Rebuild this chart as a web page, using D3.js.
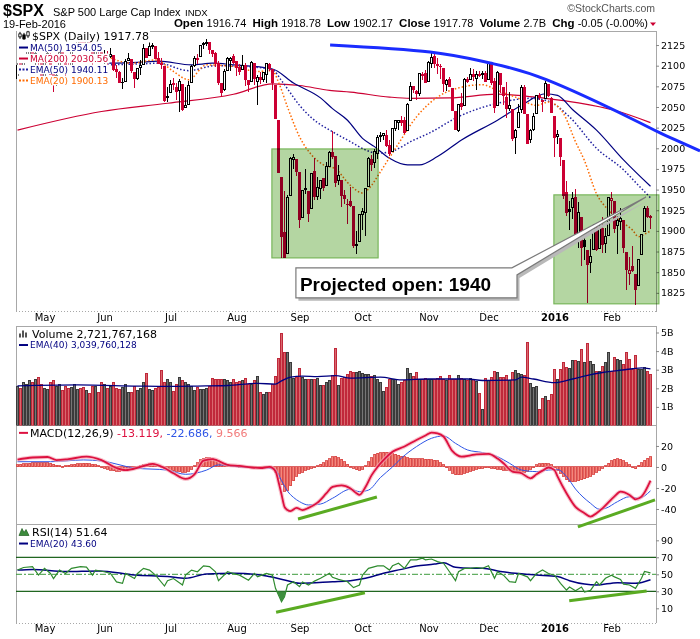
<!DOCTYPE html>
<html><head><meta charset="utf-8"><title>$SPX</title>
<script src="https://cdn.jsdelivr.net/npm/d3@7/dist/d3.min.js"></script>
<style>html,body{margin:0;padding:0;background:#fff}svg{display:block}</style>
</head><body>
<svg id="chart" width="700" height="639"></svg>
<script>
// ---------- DATA ----------
// date, open, high, low, close, volume (billions)
const ohlcv = [
["2015-04-20",2084.1,2103.9,2084.1,2100.4,2.1],["2015-04-21",2102.8,2109.6,2094.4,2097.3,2.0],["2015-04-22",2098.3,2108.9,2091.1,2108.0,2.3],["2015-04-23",2107.2,2120.5,2103.2,2112.9,2.2],["2015-04-24",2112.8,2120.9,2112.8,2117.7,2.4],["2015-04-27",2119.3,2125.9,2107.0,2108.9,2.3],["2015-04-28",2108.4,2116.0,2094.9,2114.8,2.45],["2015-04-29",2112.5,2113.7,2097.4,2106.9,2.6],["2015-04-30",2105.5,2105.5,2077.6,2085.5,2.2],
["2015-05-01",2087.4,2108.4,2087.4,2108.3,2.0],["2015-05-04",2108.6,2120.9,2108.6,2114.5,1.95],["2015-05-05",2112.6,2115.2,2088.5,2089.5,2.3],["2015-05-06",2091.3,2098.4,2067.9,2080.2,2.4],["2015-05-07",2080.0,2092.9,2075.0,2088.0,2.1],["2015-05-08",2092.1,2117.7,2092.1,2116.1,2.2],["2015-05-11",2115.6,2117.7,2104.6,2105.3,1.9],["2015-05-12",2102.9,2105.1,2085.6,2099.1,2.1],["2015-05-13",2099.6,2110.2,2096.0,2098.5,2.0],["2015-05-14",2100.4,2121.5,2100.4,2121.1,2.05],["2015-05-15",2122.1,2123.9,2116.8,2122.7,2.2],["2015-05-18",2121.3,2131.8,2120.0,2129.2,1.95],["2015-05-19",2129.5,2133.0,2124.5,2127.8,2.0],["2015-05-20",2127.8,2134.7,2122.6,2125.9,2.05],["2015-05-21",2125.6,2134.3,2122.6,2130.8,1.9],["2015-05-22",2130.4,2132.2,2126.1,2126.1,1.7],["2015-05-26",2125.3,2125.3,2099.2,2104.2,2.1],["2015-05-27",2105.1,2126.2,2105.1,2123.5,2.1],["2015-05-28",2122.3,2122.3,2112.8,2120.8,1.75],["2015-05-29",2120.7,2120.7,2104.9,2107.4,2.3],
["2015-06-01",2108.6,2119.2,2102.5,2111.7,2.2],["2015-06-02",2110.4,2117.6,2099.1,2109.6,2.0],["2015-06-03",2110.6,2121.9,2109.6,2114.1,2.1],["2015-06-04",2112.4,2112.9,2093.2,2095.8,2.3],["2015-06-05",2095.1,2101.0,2085.7,2092.8,2.0],["2015-06-08",2092.3,2093.0,2079.1,2079.3,1.95],["2015-06-09",2079.1,2085.6,2072.1,2080.2,2.05],["2015-06-10",2081.1,2108.5,2081.1,2105.2,2.2],["2015-06-11",2106.2,2115.0,2106.2,2108.9,1.8],["2015-06-12",2107.4,2107.4,2091.3,2094.1,1.75],["2015-06-15",2091.3,2091.3,2072.5,2084.4,2.1],["2015-06-16",2084.3,2097.4,2082.1,2096.3,1.9],["2015-06-17",2097.4,2106.8,2088.9,2100.4,2.0],["2015-06-18",2101.6,2126.7,2101.6,2121.2,2.3],["2015-06-19",2121.1,2121.6,2109.5,2110.0,2.8],["2015-06-22",2112.5,2129.9,2112.5,2122.9,1.95],["2015-06-23",2123.2,2128.0,2119.9,2124.2,1.9],["2015-06-24",2123.2,2123.2,2107.6,2108.6,2.0],["2015-06-25",2109.1,2116.0,2101.8,2102.3,2.05],["2015-06-26",2102.6,2108.9,2095.4,2101.5,2.95],["2015-06-29",2098.6,2098.6,2056.6,2057.6,2.3],["2015-06-30",2061.2,2074.3,2056.3,2063.1,2.45],
["2015-07-01",2067.0,2082.8,2067.0,2077.4,2.3],["2015-07-02",2078.0,2085.1,2071.0,2076.8,1.85],["2015-07-06",2073.0,2078.6,2058.4,2068.8,2.2],["2015-07-07",2069.5,2083.7,2044.0,2081.3,2.6],["2015-07-08",2077.7,2077.7,2044.7,2046.7,2.4],["2015-07-09",2049.7,2074.3,2049.7,2051.3,2.3],["2015-07-10",2052.7,2081.3,2052.7,2076.6,2.2],["2015-07-13",2080.0,2100.7,2080.0,2099.6,2.1],["2015-07-14",2099.7,2112.0,2098.2,2109.0,1.9],["2015-07-15",2109.0,2114.2,2102.5,2107.4,2.05],["2015-07-16",2110.6,2124.4,2110.6,2124.3,1.95],["2015-07-17",2126.8,2128.9,2119.9,2126.6,1.95],["2015-07-20",2126.9,2132.8,2123.7,2128.3,2.0],["2015-07-21",2127.6,2128.4,2114.2,2119.2,2.1],["2015-07-22",2118.2,2118.5,2110.0,2114.2,2.55],["2015-07-23",2114.2,2116.9,2098.6,2102.2,2.45],["2015-07-24",2102.2,2106.0,2077.1,2079.7,2.5],["2015-07-27",2078.2,2078.2,2063.5,2067.6,2.5],["2015-07-28",2070.8,2095.6,2069.1,2093.3,2.45],["2015-07-29",2094.7,2110.6,2094.1,2108.6,2.4],["2015-07-30",2106.8,2110.5,2094.1,2108.6,2.3],["2015-07-31",2111.6,2114.2,2102.1,2104.0,2.45],
["2015-08-03",2104.5,2105.7,2087.3,2098.0,2.3],["2015-08-04",2097.7,2102.5,2088.6,2093.3,2.35],["2015-08-05",2095.3,2112.7,2095.3,2099.8,2.4],["2015-08-06",2100.0,2103.3,2075.5,2083.6,2.55],["2015-08-07",2082.6,2082.6,2067.9,2077.6,2.2],["2015-08-10",2081.0,2105.4,2081.0,2104.2,2.2],["2015-08-11",2102.7,2102.7,2076.5,2084.1,2.4],["2015-08-12",2081.1,2089.1,2052.1,2086.1,2.65],["2015-08-13",2086.2,2092.9,2078.3,2083.4,1.75],["2015-08-14",2083.2,2092.5,2080.6,2091.5,1.65],["2015-08-17",2089.7,2102.9,2079.3,2102.4,1.75],["2015-08-18",2102.0,2103.5,2094.1,2096.9,1.8],["2015-08-19",2095.7,2096.2,2070.5,2079.6,2.2],["2015-08-20",2076.6,2076.6,2035.7,2035.7,2.65],["2015-08-21",2034.1,2034.1,1970.9,1971.0,3.6],["2015-08-24",1965.2,1965.2,1867.0,1893.2,4.95],["2015-08-25",1898.1,1948.0,1867.1,1867.6,3.9],["2015-08-26",1872.8,1943.1,1872.8,1940.5,3.9],["2015-08-27",1942.8,1989.6,1942.8,1987.7,3.4],["2015-08-28",1986.1,1993.5,1975.2,1988.9,2.55],["2015-08-31",1986.7,1986.7,1966.0,1972.2,2.6],
["2015-09-01",1970.1,1970.1,1903.1,1913.9,3.05],["2015-09-02",1916.5,1948.9,1916.5,1948.9,2.6],["2015-09-03",1950.8,1975.0,1944.7,1951.1,2.5],["2015-09-04",1947.8,1947.8,1911.2,1921.2,2.45],["2015-09-08",1927.3,1970.4,1927.3,1969.4,2.45],["2015-09-09",1971.5,1988.6,1937.9,1942.0,2.5],["2015-09-10",1941.6,1965.3,1937.2,1952.3,2.55],["2015-09-11",1951.5,1961.1,1939.2,1961.1,2.15],["2015-09-14",1963.1,1963.1,1948.3,1953.0,2.15],["2015-09-15",1955.1,1983.2,1954.3,1978.1,2.3],["2015-09-16",1978.0,1997.3,1977.9,1995.3,2.4],["2015-09-17",1995.3,2020.9,1986.7,1990.2,2.7],["2015-09-18",1989.7,1989.7,1953.5,1958.0,4.15],["2015-09-21",1960.8,1979.6,1955.8,1967.0,2.15],["2015-09-22",1961.4,1961.4,1929.2,1942.7,2.55],["2015-09-23",1943.2,1949.5,1932.6,1938.8,2.6],["2015-09-24",1932.2,1938.9,1908.9,1932.2,2.75],["2015-09-25",1935.9,1952.9,1929.0,1931.3,2.9],["2015-09-28",1929.2,1929.2,1879.2,1881.8,2.85],["2015-09-29",1881.9,1899.5,1871.9,1884.1,2.85],["2015-09-30",1887.1,1920.5,1887.1,1920.0,2.9],
["2015-10-01",1919.7,1927.2,1900.7,1923.8,2.8],["2015-10-02",1921.8,1951.4,1893.7,1951.4,2.75],["2015-10-05",1954.3,1989.2,1954.3,1987.1,2.75],["2015-10-06",1986.6,1991.6,1972.0,1979.9,2.65],["2015-10-07",1982.3,1999.3,1976.4,1995.8,2.7],["2015-10-08",1994.0,2016.5,1987.5,2013.4,2.45],["2015-10-09",2013.7,2020.1,2007.6,2014.9,2.3],["2015-10-12",2015.7,2018.7,2010.6,2017.5,1.83],["2015-10-13",2015.0,2022.3,2001.8,2003.7,2.06],["2015-10-14",2003.7,2009.6,1990.7,1994.2,2.5],["2015-10-15",1996.5,2024.2,1996.5,2023.9,2.5],["2015-10-16",2024.4,2033.5,2020.5,2033.1,2.45],["2015-10-19",2031.7,2034.5,2022.3,2033.7,2.2],["2015-10-20",2033.1,2039.1,2026.6,2030.8,2.3],["2015-10-21",2033.5,2038.0,2017.2,2018.9,2.4],["2015-10-22",2021.9,2055.2,2021.9,2052.5,3.05],["2015-10-23",2058.2,2079.7,2058.2,2075.2,2.8],["2015-10-26",2075.1,2075.1,2066.5,2071.2,2.65],["2015-10-27",2068.8,2070.4,2058.8,2065.9,2.85],["2015-10-28",2066.5,2090.4,2063.1,2090.4,2.5],["2015-10-29",2088.4,2092.5,2082.6,2089.4,2.45],["2015-10-30",2090.0,2094.3,2079.3,2079.4,2.55],
["2015-11-02",2080.8,2106.2,2080.8,2104.1,2.5],["2015-11-03",2102.6,2116.5,2097.5,2109.8,2.45],["2015-11-04",2110.6,2114.6,2097.0,2102.3,2.5],["2015-11-05",2101.7,2108.8,2090.4,2099.9,2.55],["2015-11-06",2098.6,2101.9,2083.7,2099.2,2.65],["2015-11-09",2096.6,2096.6,2068.2,2078.6,2.5],["2015-11-10",2077.2,2083.7,2069.9,2081.7,2.4],["2015-11-11",2083.4,2086.9,2074.9,2075.0,2.7],["2015-11-12",2072.3,2072.3,2045.7,2046.0,2.5],["2015-11-13",2044.6,2044.6,2022.0,2023.0,2.5],["2015-11-16",2022.1,2053.2,2019.9,2053.2,2.7],["2015-11-17",2053.7,2066.7,2045.9,2050.4,2.55],["2015-11-18",2052.0,2085.3,2052.0,2083.6,2.5],["2015-11-19",2083.7,2086.7,2078.8,2081.2,2.4],["2015-11-20",2082.8,2097.1,2082.8,2089.2,2.55],["2015-11-23",2089.4,2095.6,2081.4,2086.6,2.45],["2015-11-24",2084.4,2094.1,2070.3,2089.1,2.35],["2015-11-25",2089.3,2093.0,2086.3,2088.9,1.74],["2015-11-27",2088.8,2093.3,2084.1,2090.1,0.88],["2015-11-30",2091.0,2093.8,2080.4,2080.4,2.55],
["2015-12-01",2082.9,2103.4,2082.9,2102.6,2.4],["2015-12-02",2101.7,2104.3,2077.1,2079.5,2.6],["2015-12-03",2080.7,2085.0,2042.4,2049.6,2.9],["2015-12-04",2051.2,2093.8,2051.2,2091.7,2.85],["2015-12-07",2090.4,2090.4,2066.8,2077.1,2.6],["2015-12-08",2073.4,2073.9,2052.3,2063.6,2.6],["2015-12-09",2061.2,2080.3,2036.5,2047.6,2.7],["2015-12-10",2047.9,2067.7,2045.7,2052.2,2.4],["2015-12-11",2047.3,2047.3,2008.8,2012.4,2.85],["2015-12-14",2013.4,2022.9,1993.3,2021.9,2.95],["2015-12-15",2025.6,2053.9,2025.6,2043.4,2.8],["2015-12-16",2046.5,2076.7,2042.4,2073.1,2.75],["2015-12-17",2073.8,2076.4,2041.7,2041.9,2.7],["2015-12-18",2040.8,2040.8,2005.3,2005.6,4.48],["2015-12-21",2010.3,2022.9,2005.9,2021.2,2.25],["2015-12-22",2023.2,2042.7,2020.5,2039.0,2.05],["2015-12-23",2042.2,2064.7,2042.2,2064.3,2.1],["2015-12-24",2063.5,2067.4,2058.7,2061.0,0.85],["2015-12-28",2057.8,2057.8,2044.2,2056.5,1.45],["2015-12-29",2060.5,2081.6,2060.5,2078.4,1.55],["2015-12-30",2077.3,2077.3,2062.0,2063.4,1.35],["2015-12-31",2060.6,2062.5,2043.6,2043.9,1.65],
["2016-01-04",2038.2,2038.2,1989.7,2012.7,3.0],["2016-01-05",2013.8,2021.9,2004.7,2016.7,2.45],["2016-01-06",2011.7,2011.7,1979.1,1990.3,3.0],["2016-01-07",1985.3,1985.3,1938.8,1943.1,3.4],["2016-01-08",1946.0,1960.4,1918.5,1922.0,3.1],["2016-01-11",1926.1,1935.7,1901.1,1923.7,3.05],["2016-01-12",1927.8,1947.4,1914.4,1938.7,3.5],["2016-01-13",1940.3,1950.3,1886.3,1890.3,3.5],["2016-01-14",1891.7,1934.5,1878.9,1921.8,3.45],["2016-01-15",1916.7,1916.7,1857.8,1880.3,4.07],["2016-01-19",1888.7,1901.4,1864.6,1881.3,3.4],["2016-01-20",1876.2,1876.2,1812.3,1859.3,4.39],["2016-01-21",1861.5,1889.8,1849.0,1869.0,3.45],["2016-01-22",1877.4,1908.9,1877.4,1906.9,3.26],["2016-01-25",1906.3,1906.3,1876.0,1877.1,2.9],["2016-01-26",1878.8,1906.7,1878.8,1903.6,2.9],["2016-01-27",1902.5,1917.0,1872.7,1883.0,3.17],["2016-01-28",1885.2,1903.0,1873.7,1893.4,3.4],["2016-01-29",1894.0,1940.2,1894.0,1940.2,3.94],
["2016-02-01",1936.9,1947.2,1920.0,1939.4,2.9],["2016-02-02",1935.3,1935.3,1897.3,1903.0,3.67],["2016-02-03",1907.1,1918.0,1872.2,1912.5,3.53],["2016-02-04",1911.7,1927.4,1900.5,1915.4,3.5],["2016-02-05",1913.1,1913.1,1872.7,1880.1,3.3],["2016-02-08",1873.3,1873.3,1828.5,1853.4,3.94],["2016-02-09",1848.5,1868.3,1834.9,1852.2,3.53],["2016-02-10",1857.1,1881.6,1850.3,1851.9,3.0],["2016-02-11",1847.0,1847.0,1810.1,1829.1,3.75],["2016-02-12",1833.4,1864.8,1833.4,1864.8,3.0],["2016-02-16",1871.4,1895.8,1871.4,1895.6,3.03],["2016-02-17",1898.8,1930.7,1898.8,1926.8,3.14],["2016-02-18",1927.6,1930.0,1915.1,1917.83,2.9],["2016-02-19",1916.74,1918.78,1902.17,1917.78,2.72]
];
const prevClose0 = 2081.2;

// overlays: [trading-day index, value]
const ma50 = [[30,2103],[40,2104],[47,2105.5],[58,2101],[65,2103],[72,2101],[85,2096],[92,2079],[101,2061],[105,2048],[110,2034],[115,2012],[119,2002],[124,1988],[130,1980],[134,1980],[140,1990],[148,2010],[160,2034],[168,2052],[176,2066],[180,2064],[185,2047],[193,2022],[202,1986],[211,1954]];
const ma200 = [[0,2022],[28,2044.5],[50,2054.5],[72,2065.4],[85,2078],[94,2076],[104,2070],[111,2068],[124,2062],[131,2060.5],[144,2061],[160,2065.5],[176,2060.5],[187,2055],[199,2046],[211,2031]];
const ema50 = [[30,2101],[40,2102],[47,2103],[57,2094],[66,2100],[76,2099],[85,2095],[88,2082],[90,2072],[94,2052],[98,2037],[105,2020],[111,2008],[116,1998],[120,1994],[126,1998],[131,2008],[137,2018],[148,2040],[160,2054.5],[171,2060.5],[177,2057],[184,2038],[193,2000],[202,1974],[207,1955],[211,1940]];
const ema20 = [[30,2111],[38,2103],[46,2107],[52,2093],[57,2083],[63,2101],[72,2099],[80,2093],[85,2094],[87,2080],[90,2050],[94,2014],[98,1992],[102,1980],[106,1975],[111,1955],[115,1946],[118,1955],[120,1966],[126,2000],[133,2038],[140,2062],[146,2072],[155,2077],[160,2070],[166,2062],[173,2052],[177,2056],[182,2042],[186,2008],[189,1985],[193,1945],[197,1925],[201,1912],[205,1901],[207,1893],[209,1896],[211,1900]];
const volEma40 = [[0,2.13],[20,2.18],[40,2.12],[50,2.1],[60,2.12],[70,2.15],[80,2.27],[86,2.22],[88,2.4],[91,2.6],[95,2.65],[100,2.63],[106,2.68],[111,2.55],[121,2.6],[128,2.45],[137,2.5],[150,2.5],[155,2.42],[166,2.45],[168,2.6],[172,2.5],[179,2.3],[185,2.5],[190,2.7],[195,2.85],[200,2.95],[205,3.05],[208,3.1],[211,3.04]];
const macdLine = [[0,7],[5,9],[10,9.5],[13,6.5],[17,7.5],[23,9.8],[28,6.5],[33,-1],[36,-3],[41,0],[45,3],[49,-1],[52,-6],[56,-11.4],[59,-7],[62,6],[65,7.5],[70,2],[74,1],[78,-0.5],[81,-1],[84,0],[86,-4],[87,-14],[88,-26],[89,-38],[90,-41],[91,-42],[93,-39],[95,-41],[97,-39],[100,-34],[103,-25],[105,-19],[108,-17.5],[111,-20.5],[113,-25],[114,-26.5],[116,-19],[118,-8],[120,0],[122,6.5],[125,14.5],[129,19.5],[133,25.7],[136,30],[138,32.7],[140,32],[142,29],[145,15],[148,9.8],[151,11],[153,12],[157,12.4],[160,8],[162,3.5],[165,-4.4],[168,-6],[171,-10.8],[173,-7],[175,-3.5],[177,-0.5],[179,-3],[180,-9],[183,-25],[186,-38],[189,-44],[191,-47.3],[193,-44],[195,-39.4],[199,-28],[201,-23.5],[204,-26.6],[206,-30.8],[208,-28.3],[211,-13.1]];
const macdSignal = [[0,5],[11,5],[22,6.7],[28,5.7],[39,-1],[50,-3],[56,-7],[63,-3],[67,2],[74,0],[83,-1],[86,-3],[88,-13],[90,-23],[92,-29],[94,-33],[97,-36.2],[101,-35.3],[105,-29.8],[111,-21.2],[114,-23.5],[117,-22],[121,-10],[125,0],[128,8.5],[133,19.4],[138,27.3],[142,29.5],[146,22.5],[150,16.2],[155,13.7],[160,9.8],[164,3.5],[168,-2.9],[173,-4.4],[177,-2.9],[180,-2.5],[183,-9],[186,-21],[191,-34.6],[194,-40.3],[196,-39.4],[200,-33],[204,-28.3],[207,-29.8],[211,-22.7]];
const macdHist = [2,2.5,3,3,3.5,4,4,4,4,4,4,3.5,2.5, 1.5,1,0.5,1,1.5, 2,2.5,3,3,3.5,3.5,3,2.5,2, 1,0,-1,-2,
 -3,-3.5,-4,-4,-3.5,-3,-2.5,-2,-1,0, 1,2,2.5,3,3,2.5, 1,0,-1,-2,-3,-3.5, -4,-4.5,-5,-5,-4,
 -2,1,4,7,8.5,9,9,8.5,7.5, 6,4.5,3,2, 1.5,1,1,0.5,0.5,0,0,0,0,0,-0.5,-0.5,0,0.5,
 -1,-5,-11,-17,-23,-22,-18,-13, -9,-6,-5,-3,-2,-1,0, 1,2.5,4,6,8,9.5,10,9,7.5,5,2.5,
 0.5,-1,-2.5,-3,-2, 1,5,9,12,13,13.5, 14,14,13.5,13,12,11,10,9.5,9,8.5,8,
 8,8,8,7.5,7.5,7,6.5,6,4,2,0, -3,-6,-7.5,-7.5,-7,-6,-5, -4,-3,-2,-1.5,-1,-0.5,0,
 -1,-1.5,-2,-2.5,-3,-3,-3.5,-3.5, -4,-4.5,-5,-5,-4, -2,0,2,3,3.5,3.5,3,2, 0,-3,-6,-9,
 -12,-14,-14,-13.5,-13,-12,-11,-10,-9,-7,-5,-3,-1, 1,3.5,6,7.5,8, 7.5,6,4,2,0,-1.5, 1.5,4,6.5,8.5,9.6];
const rsi14 = [[0,55],[2,58],[5,59],[7,49],[9,57],[11,51],[12,45],[14,55],[16,51],[18,57],[21,59],[23,58.5],[25,49],[26,55],[29,53],[31,51],[33,41],[35,39.4],[36,51],[39,45],[40,51],[42,57],[44,55],[46,49],[49,36.2],[50,42.5],[52,45],[55,37.4],[56,49],[58,55],[60,53],[62,60],[64,59],[66,53],[67,42.5],[70,53],[72,51],[74,49],[77,43],[79,51],[80,47],[83,51],[85,49],[86,33.5],[88,17.8],[89,23.7],[90,37.4],[92,41.3],[94,35.5],[95,41],[97,37.4],[99,42],[101,45.3],[104,51.2],[105,46.5],[107,44],[110,41.3],[112,34.3],[114,37.4],[115,49],[117,57],[120,60],[122,60],[124,55],[125,60],[127,63],[129,57],[131,67],[133,67],[135,69],[136,67],[138,68],[140,65],[142,63],[144,53],[146,42.5],[147,53],[149,57],[151,57],[153,58],[155,57],[157,60],[159,45.3],[160,53],[162,49],[164,41.3],[166,40.5],[167,51],[170,47],[171,42.5],[173,51],[175,55],[177,51],[179,49],[181,39.4],[183,31.5],[184,35],[186,30.7],[188,35],[189,29.2],[191,31],[193,41.3],[194,37.4],[196,45.3],[198,49],[199,47],[201,44],[202,38.5],[204,37.4],[206,33.5],[208,45.3],[209,53.3],[211,51.6]];
const rsiEma20 = [[0,55],[5,55.8],[16,53.3],[27,54],[39,49.2],[50,47.3],[56,45.3],[63,50.4],[72,51.2],[83,48],[89,43.4],[94,39.4],[105,41.3],[111,42.5],[116,45.3],[122,51.2],[128,55.8],[133,59.8],[139,62],[142,63.7],[146,58.2],[151,57],[155,57],[161,53.3],[166,51.2],[173,49.2],[180,47.3],[184,42.5],[189,38.5],[193,37.4],[200,40.2],[206,39.4],[211,43.6]];

// annotations (trading-day index, value)
const trendTop = [[104.2,2125],[137.5,2116.5],[157.5,2103.2],[176.5,2082.7],[204.2,2036.7],[214.2,2018.6],[227.5,1996.8]];
const boxes = [[84.8,120.2,1867.3,1999.2],[178.8,213.8,1811.7,1943.6]];
const callout = {text:"Projected open: 1940", i0:92.8, i1:166.5, top:1855.2, bottom:1818.9, baseI:164.8, base2:1846.7, tipI:209.5, tipV:1941.1};
const macdDiv = [[[93.5,-49.5],[119.8,-28.6]],[[186.8,-57.1],[212.5,-31.4]]];
const rsiDiv = [[[86.2,5.3],[115.8,28.4]],[[183.9,18.9],[209.7,30.4]]];

// axes
const priceTicks = [1825,1850,1875,1900,1925,1950,1975,2000,2025,2050,2075,2100,2125];
const volTicks = [1,2,3,4,5];
const macdTicks = [-40,-20,0,20];
const rsiTicks = [10,30,50,70,90];
const monthLabels = ["May","Jun","Jul","Aug","Sep","Oct","Nov","Dec","2016","Feb"];

// ---------- DRAW ----------
const SANS = "'Liberation Sans', Arial, sans-serif";
const VERD = "'DejaVu Sans', Verdana, sans-serif";
const svg = d3.select("#chart");
const n = ohlcv.length;
const L = 16, R = 656;
const x = d3.scaleLinear().domain([0, n-1]).range([17.5, 650.5]);
const yP = d3.scaleLinear().domain([1803, 2142]).range([311, 31]);
const yV = d3.scaleLinear().domain([0, 5]).range([425.5, 332.5]);
const yM = d3.scaleLinear().domain([-54.3, 39]).range([524, 426]);
const yR = d3.scaleLinear().domain([-7.3, 109.2]).range([623, 524]);
const RED = "#cc0033", NAVY = "#000080";

const defs = svg.append("defs");
function clip(id, y0, y1){ defs.append("clipPath").attr("id", id).append("rect").attr("x", L).attr("y", y0).attr("width", R-L).attr("height", y1-y0); }
clip("cMain", 31, 311.5); clip("cVol", 326, 425.5); clip("cMacd", 425.5, 524); clip("cRsi", 524, 623);
defs.append("clipPath").attr("id","cRsiLow").append("rect").attr("x",L).attr("y",yR(30)).attr("width",R-L).attr("height",623-yR(30));
defs.append("clipPath").attr("id","cRsiHigh").append("rect").attr("x",L).attr("y",524).attr("width",R-L).attr("height",yR(70)-524);

// header
const hd = svg.append("g").attr("font-family", SANS);
hd.append("text").attr("x",3).attr("y",16).attr("font-size",16).attr("font-weight","bold").text("$SPX");
hd.append("text").attr("x",53).attr("y",16).attr("font-size",11).text("S&P 500 Large Cap Index");
hd.append("text").attr("x",185).attr("y",16).attr("font-size",9.5).text("INDX");
hd.append("text").attr("x",3).attr("y",27.5).attr("font-size",11).text("19-Feb-2016");
hd.append("text").attr("x",655).attr("y",12).attr("font-size",10.5).attr("fill","#555").attr("text-anchor","end").text("\u00A9StockCharts.com");
const last = ohlcv[n-1];
const quote = [["Open ",true],[last[1].toFixed(2)+"  ",false],["High ",true],[last[2].toFixed(2)+"  ",false],["Low ",true],[last[3].toFixed(2)+"  ",false],["Close ",true],[last[4].toFixed(2)+"  ",false],["Volume ",true],["2.7B  ",false],["Chg ",true],["-0.05 (-0.00%)",false]];
const qt = hd.append("text").attr("x",648).attr("y",27).attr("text-anchor","end").attr("xml:space","preserve");
quote.forEach(q => qt.append("tspan").attr("font-weight", q[1]?"bold":"normal").attr("font-size", q[1]?11.5:11).text(q[0]));
hd.append("path").attr("d","M650,22.5 L656,22.5 L653,26 Z").attr("fill",RED);

// panel frames
const fr = svg.append("g").attr("stroke","#a8a8a8").attr("fill","none").attr("shape-rendering","crispEdges");
[[31,311.5],[326,425.5],[425.5,524],[524,623]].forEach(p=>{
  fr.append("line").attr("x1",L).attr("x2",L).attr("y1",p[0]).attr("y2",p[1]);
  fr.append("line").attr("x1",R).attr("x2",R).attr("y1",p[0]).attr("y2",p[1]);
});
fr.append("line").attr("x1",L).attr("x2",R).attr("y1",31).attr("y2",31);
fr.append("line").attr("x1",L).attr("x2",R).attr("y1",326).attr("y2",326);
fr.append("line").attr("x1",L).attr("x2",R).attr("y1",425.5).attr("y2",425.5);
fr.append("line").attr("x1",L).attr("x2",R).attr("y1",524).attr("y2",524);
fr.append("line").attr("x1",L).attr("x2",R).attr("y1",311.5).attr("y2",311.5).attr("stroke-dasharray","1,2");
fr.append("line").attr("x1",L).attr("x2",R).attr("y1",623).attr("y2",623).attr("stroke-dasharray","1,2");

// right axes
function rAxis(scale, ticks, fmt){
  const g = svg.append("g").attr("transform",`translate(${R},0)`)
    .call(d3.axisRight(scale).tickValues(ticks).tickSize(3).tickPadding(2).tickFormat(fmt));
  g.select(".domain").remove();
  g.selectAll("line").attr("stroke","#888");
  g.selectAll("text").attr("font-family",VERD).attr("font-size",9.5).attr("fill","#000");
}
rAxis(yP, priceTicks, d=>d);
rAxis(yV, volTicks, d=>d+"B");
rAxis(yM, macdTicks, d=>d);
rAxis(yR, rsiTicks, d=>d);

// month labels
const monthStarts = [];
for(let i=1;i<n;i++) if(ohlcv[i][0].slice(0,7)!==ohlcv[i-1][0].slice(0,7)) monthStarts.push(i);
[323.5, 635].forEach(yy=>{
  const g = svg.append("g").attr("transform",`translate(0,${yy-10})`)
    .call(d3.axisBottom(x).tickValues(monthStarts).tickSize(0).tickPadding(0).tickFormat((d,k)=>monthLabels[k]));
  g.select(".domain").remove();
  g.selectAll("text").attr("font-family",VERD).attr("font-size",10).attr("fill","#000").attr("dy","0.71em")
    .attr("font-weight",(d,k)=>monthLabels[k]==="2016"?"bold":"normal");
});

// ---- main price panel ----
const gm = svg.append("g").attr("clip-path","url(#cMain)");
const line = (sy)=>d3.line().x(d=>x(d[0])).y(d=>sy(d[1])).curve(d3.curveMonotoneX);
gm.append("path").attr("d",line(yP)(ma200)).attr("fill","none").attr("stroke",RED).attr("stroke-width",1.2);
gm.append("path").attr("d",line(yP)(ma50)).attr("fill","none").attr("stroke",NAVY).attr("stroke-width",1.2);
gm.append("path").attr("d",line(yP)(ema50)).attr("fill","none").attr("stroke","#2020a0").attr("stroke-width",1.5).attr("stroke-dasharray","1.5,2");
gm.append("path").attr("d",line(yP)(ema20)).attr("fill","none").attr("stroke","#ff6a00").attr("stroke-width",1.5).attr("stroke-dasharray","1.5,2");

const cg = gm.append("g").attr("shape-rendering","crispEdges");
ohlcv.forEach((d,i)=>{
  const [dt,o,h,l,c] = d;
  const pc = i===0 ? prevClose0 : ohlcv[i-1][4];
  const col = c >= pc ? "#000" : RED;
  const cx = x(i);
  cg.append("line").attr("x1",cx).attr("x2",cx).attr("y1",yP(h)).attr("y2",yP(l)).attr("stroke",col);
  const top = yP(Math.max(o,c)), bot = yP(Math.min(o,c));
  cg.append("rect").attr("x",cx-1).attr("y",top).attr("width",2).attr("height",Math.max(0.5,bot-top))
    .attr("fill", c>o ? "#fff" : col).attr("stroke",col).attr("stroke-width",1);
});

// legend helper
function legend(g, rows){
  rows.forEach(r=>{
    const rg = g.append("g");
    const t = rg.append("text").attr("x",r.tx).attr("y",r.y).attr("font-family",VERD).attr("font-size",r.size).attr("xml:space","preserve");
    r.parts.forEach(p=>t.append("tspan").attr("fill",p[1]).text(p[0]));
    if(r.bg){
      const b = t.node().getBBox();
      rg.insert("rect","text").attr("x",L+1).attr("y",b.y).attr("width",b.x+b.width-L).attr("height",b.height).attr("fill","#fff");
    }
    const my = r.y - r.size*0.33;
    if(r.sw==="line") rg.append("line").attr("x1",19).attr("x2",28).attr("y1",my).attr("y2",my).attr("stroke",r.col).attr("stroke-width",2);
    if(r.sw==="dots") rg.append("line").attr("x1",19).attr("x2",28).attr("y1",my).attr("y2",my).attr("stroke",r.col).attr("stroke-width",2).attr("stroke-dasharray","2,1.5");
    if(r.sw==="candle"){
      [[20,my-4,my+3,my-2,my+1,true],[24,my-3,my+4,my-1,my+3,false],[28,my-5,my+2,my-4,my,true]].forEach(k=>{
        rg.append("line").attr("x1",k[0]).attr("x2",k[0]).attr("y1",k[1]).attr("y2",k[2]).attr("stroke","#000");
        rg.append("rect").attr("x",k[0]-1.2).attr("y",k[3]).attr("width",2.4).attr("height",k[4]-k[3]).attr("fill",k[5]?"#fff":"#000").attr("stroke","#000").attr("stroke-width",0.8);
      });
    }
    if(r.sw==="bars"){
      [[19,4],[22,7],[25,5]].forEach(b=>rg.append("rect").attr("x",b[0]).attr("y",r.y-b[1]).attr("width",2).attr("height",b[1]).attr("fill","#555"));
    }
    if(r.sw==="mount"){
      rg.append("path").attr("d",`M19,${r.y} L22,${r.y-7} L24,${r.y-3} L26,${r.y-6} L29,${r.y} Z`).attr("fill","#3c8c3c").attr("stroke","#1f5f1f").attr("stroke-width",0.7);
    }
  });
}
legend(svg.append("g"), [
  {y:39.5,size:11,tx:32,sw:"candle",parts:[["$SPX (Daily) 1917.78","#000"]],bg:true},
  {y:50.5,size:9,tx:30,sw:"line",col:NAVY,parts:[["MA(50) 1954.05",NAVY]],bg:true},
  {y:61.5,size:9,tx:30,sw:"line",col:RED,parts:[["MA(200) 2030.56",RED]],bg:true},
  {y:72.5,size:9,tx:30,sw:"dots",col:"#2020a0",parts:[["EMA(50) 1940.11",NAVY]],bg:true},
  {y:83.5,size:9,tx:30,sw:"dots",col:"#ff6a00",parts:[["EMA(20) 1900.13","#ff6a00"]],bg:true}
]);

// green boxes (multiply blend)
const gb = svg.append("g");
boxes.forEach(b=>{
  gb.append("rect").attr("x",x(b[0])).attr("y",yP(b[3])).attr("width",x(b[1])-x(b[0])).attr("height",yP(b[2])-yP(b[3]))
    .attr("fill","#b4d6a2").attr("stroke","#78b65a").attr("stroke-width",1.2).style("mix-blend-mode","multiply");
});

// blue trendline
svg.append("path").attr("d",d3.line().x(d=>x(d[0])).y(d=>yP(d[1])).curve(d3.curveNatural)(trendTop))
  .attr("fill","none").attr("stroke","#1a2cff").attr("stroke-width",3);

// callout
const co = callout;
const cpath = `M${x(co.i0)},${yP(co.top)} L${x(co.baseI)},${yP(co.top)} L${x(co.tipI)},${yP(co.tipV)} L${x(co.i1)},${yP(co.base2)} L${x(co.i1)},${yP(co.bottom)} L${x(co.i0)},${yP(co.bottom)} Z`;
svg.append("path").attr("d",cpath).attr("transform","translate(2.5,3)").attr("fill","#b9b9b9");
svg.append("path").attr("d",cpath).attr("fill","#fff").attr("stroke","#7a7a7a").attr("stroke-width",1.2);
svg.append("text").attr("x",x(co.i0)+4).attr("y",yP(co.bottom)-7).attr("font-family",SANS).attr("font-weight","bold").attr("font-size",19).text(co.text);

// ---- volume panel ----
const gv = svg.append("g").attr("clip-path","url(#cVol)").attr("shape-rendering","crispEdges");
ohlcv.forEach((d,i)=>{
  const pc = i===0 ? prevClose0 : ohlcv[i-1][4];
  const up = d[4] >= pc;
  gv.append("rect").attr("x",x(i)-1).attr("y",yV(d[5])).attr("width",2).attr("height",yV(0)-yV(d[5]))
    .attr("fill", up ? "#767676" : "#d9686e").attr("stroke", up ? "#3a3a3a" : "#c0283a").attr("stroke-width",1);
});
svg.append("g").attr("clip-path","url(#cVol)").append("path").attr("d",line(yV)(volEma40)).attr("fill","none").attr("stroke",NAVY).attr("stroke-width",1.3);
legend(svg.append("g"), [
  {y:337.5,size:11,tx:32,sw:"bars",parts:[["Volume 2,721,767,168","#000"]]},
  {y:348,size:9,tx:30,sw:"line",col:NAVY,parts:[["EMA(40) 3,039,760,128",NAVY]]}
]);

// ---- MACD panel ----
const gmc = svg.append("g").attr("clip-path","url(#cMacd)");
const hg = gmc.append("g").attr("shape-rendering","crispEdges");
macdHist.forEach((h,i)=>{
  const y0 = yM(0), y1 = yM(h);
  hg.append("rect").attr("x",x(i)-1).attr("y",Math.min(y0,y1)).attr("width",2).attr("height",Math.max(0.6,Math.abs(y1-y0)))
    .attr("fill","#f7867a").attr("stroke","#d43c3c").attr("stroke-width",0.8);
});
gmc.append("path").attr("d",line(yM)(macdSignal)).attr("fill","none").attr("stroke","#2e55e6").attr("stroke-width",1);
gmc.append("path").attr("d",line(yM)(macdLine)).attr("fill","none").attr("stroke","#f5aab8").attr("stroke-width",4).attr("opacity",0.7);
gmc.append("path").attr("d",line(yM)(macdLine)).attr("fill","none").attr("stroke","#dd1140").attr("stroke-width",1.8);
legend(svg.append("g"), [
  {y:436.5,size:11,tx:30,sw:"line",col:"#dd1140",parts:[["MACD(12,26,9) ","#000"],["-13.119,","#dd1140"],[" -22.686,","#2e55e6"],[" 9.566","#f27a7a"]]}
]);
macdDiv.forEach(s=>svg.append("line").attr("x1",x(s[0][0])).attr("y1",yM(s[0][1])).attr("x2",x(s[1][0])).attr("y2",yM(s[1][1]))
  .attr("stroke","#5aab22").attr("stroke-width",3));

// ---- RSI panel ----
const gr = svg.append("g").attr("clip-path","url(#cRsi)");
gr.append("line").attr("x1",L).attr("x2",R).attr("y1",yR(70)).attr("y2",yR(70)).attr("stroke","#1b5e1b").attr("stroke-width",1.2);
gr.append("line").attr("x1",L).attr("x2",R).attr("y1",yR(30)).attr("y2",yR(30)).attr("stroke","#1b5e1b").attr("stroke-width",1.2);
gr.append("line").attr("x1",L).attr("x2",R).attr("y1",yR(50)).attr("y2",yR(50)).attr("stroke","#3c9a3c").attr("stroke-width",1).attr("stroke-dasharray","6,2,2,2");
const rl = d3.line().x(d=>x(d[0])).y(d=>yR(d[1]));
svg.append("path").attr("clip-path","url(#cRsiLow)").attr("d",d3.area().x(d=>x(d[0])).y0(yR(30)).y1(d=>yR(d[1]))(rsi14)).attr("fill","#3f8f3f");
svg.append("path").attr("clip-path","url(#cRsiHigh)").attr("d",d3.area().x(d=>x(d[0])).y0(yR(70)).y1(d=>yR(d[1]))(rsi14)).attr("fill","#3f8f3f");
gr.append("path").attr("d",line(yR)(rsiEma20)).attr("fill","none").attr("stroke",NAVY).attr("stroke-width",1.5);
gr.append("path").attr("d",rl(rsi14)).attr("fill","none").attr("stroke","#2e8b2e").attr("stroke-width",1.2);
legend(svg.append("g"), [
  {y:535.5,size:11,tx:32,sw:"mount",parts:[["RSI(14) 51.64","#000"]]},
  {y:546.5,size:9,tx:30,sw:"line",col:NAVY,parts:[["EMA(20) 43.60",NAVY]]}
]);
rsiDiv.forEach(s=>svg.append("line").attr("x1",x(s[0][0])).attr("y1",yR(s[0][1])).attr("x2",x(s[1][0])).attr("y2",yR(s[1][1]))
  .attr("stroke","#5aab22").attr("stroke-width",3));
</script>
</body></html>
